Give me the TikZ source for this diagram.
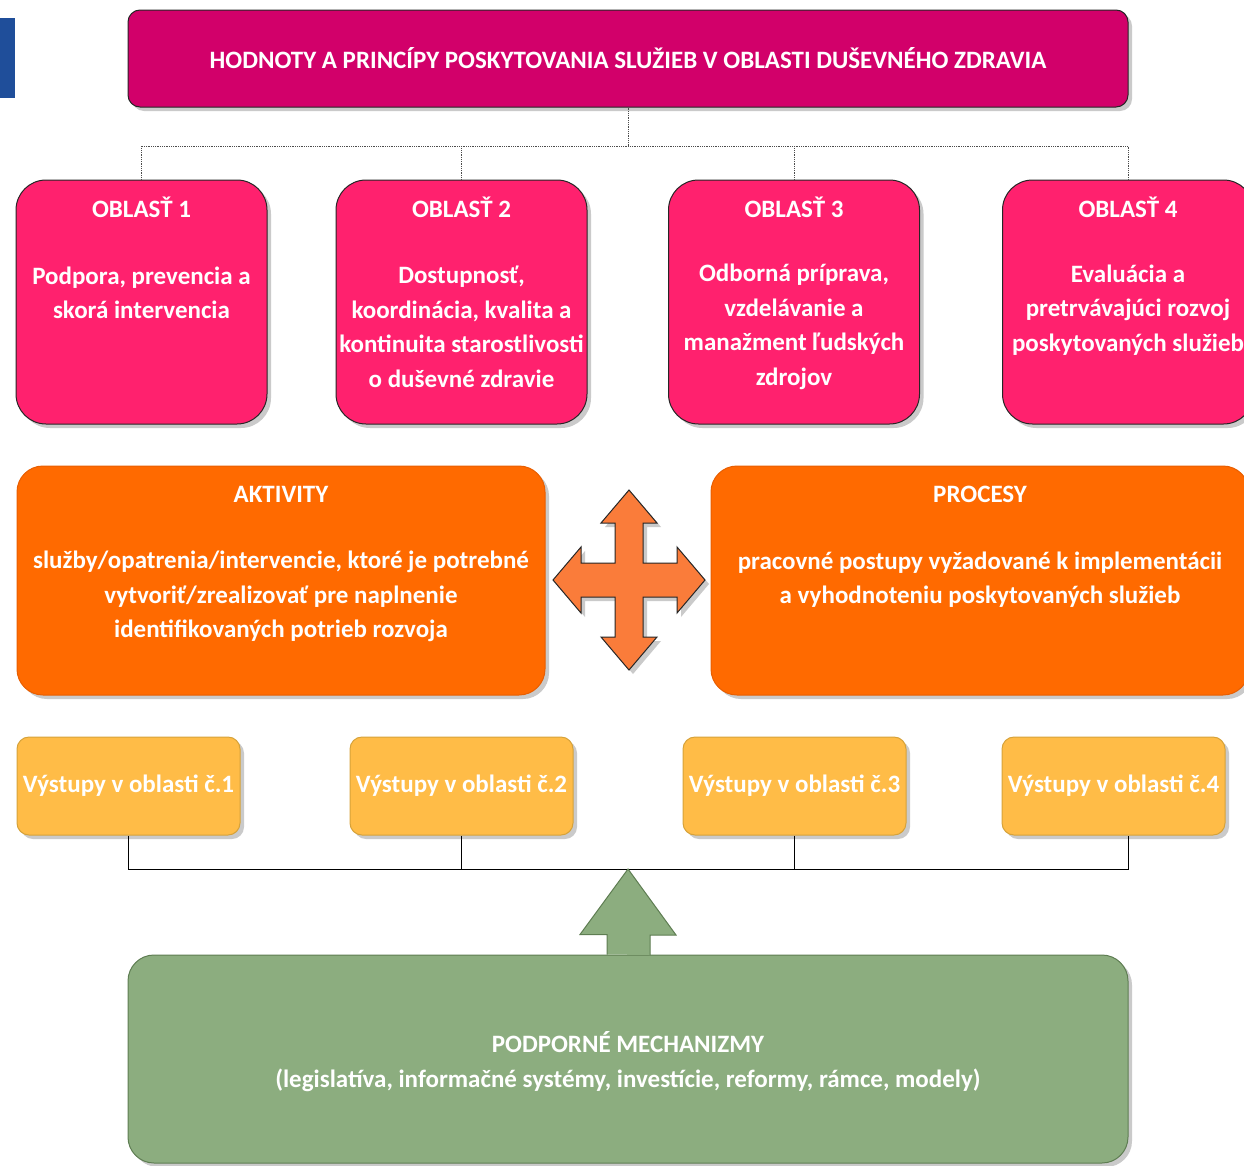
\documentclass[tikz,border=0pt]{standalone}
\usepackage{fontspec}
\setmainfont{Carlito}
\usetikzlibrary{shadows}
\definecolor{modra}{HTML}{1F4E9A}
\definecolor{hodnotyfill}{HTML}{D2006A}
\definecolor{oblastfill}{HTML}{FF216E}
\definecolor{aktfill}{HTML}{FF6A00}
\definecolor{aktline}{HTML}{E85E00}
\definecolor{krizfill}{HTML}{FA7C3A}
\definecolor{vystfill}{HTML}{FFBC47}
\definecolor{vystline}{HTML}{D6A23A}
\definecolor{mechfill}{HTML}{8CAD7F}
\definecolor{mechline}{HTML}{5E7D52}
\tikzset{
  tien/.style={drop shadow={shadow xshift=4pt,shadow yshift=-4pt,fill=black!35,opacity=.6}},
  box/.style={line width=1pt,tien},
  hodnotybox/.style={box,draw=black!85,fill=hodnotyfill,rounded corners=12pt,minimum width=1000pt,minimum height=97pt},
  oblastbox/.style={box,draw=black!85,fill=oblastfill,rounded corners=30pt,minimum width=251pt,minimum height=244pt},
  aktbox/.style={box,draw=aktline,fill=aktfill,rounded corners=26pt,minimum height=229pt},
  vystbox/.style={box,draw=vystline,fill=vystfill,rounded corners=12pt,minimum width=223pt,minimum height=98pt},
  mechbox/.style={box,draw=mechline,fill=mechfill,rounded corners=26pt,minimum width=1000pt,minimum height=208pt},
  txt/.style={text=white,align=center,inner sep=0pt,font=\bfseries\fontsize{25}{34.5}\selectfont},
  bodka/.style={densely dotted,line width=.8pt,black!70},
  spoj/.style={line width=1pt,black},
}

\begin{document}
\begin{tikzpicture}[x=1pt,y=-1pt]
\useasboundingbox (0,0) rectangle (1244,1165);
\fill[modra] (0,18) rectangle (15,98);
%hodnoty a principy
\node[hodnotybox] (hodnoty) at (628,58.5) {};
\node[txt] (hodnotytxt) at (628,58.5) {HODNOTY A PRINCÍPY POSKYTOVANIA SLUŽIEB V OBLASTI DUŠEVNÉHO ZDRAVIA};
%oblasti
\node[oblastbox] (obl1) at (141.5,302) {};
\node[oblastbox] (obl2) at (461.5,302) {};
\node[oblastbox] (obl3) at (794,302) {};
\node[oblastbox] (obl4) at (1128,302) {};
\node[txt] (obl1t) at (141.5,207) {OBLASŤ 1};
\node[txt] (obl2t) at (461.5,207) {OBLASŤ 2};
\node[txt] (obl3t) at (794,207) {OBLASŤ 3};
\node[txt] (obl4t) at (1128,207) {OBLASŤ 4};
\node[txt] (obl1b) at (141.5,293) {Podpora, prevencia a\\skorá intervencia};
\node[txt] (obl2b) at (461.5,327) {Dostupnosť,\\koordinácia, kvalita a\\kontinuita starostlivosti\\o duševné zdravie};
\node[txt] (obl3b) at (794,327) {Odborná príprava,\\vzdelávanie a\\manažment ľudských\\zdrojov};
\node[txt] (obl4b) at (1128,310) {Evaluácia a\\pretrvávajúci rozvoj\\poskytovaných služieb};
\coordinate (vetva) at (628,146);
\draw[bodka] (hodnoty.south) -- (vetva);
\draw[bodka] (obl1.north) |- (vetva) -| (obl4.north);
\draw[bodka] (obl2.north) -- (obl2.north |- vetva);
\draw[bodka] (obl3.north) -- (obl3.north |- vetva);
%aktivity a procesy
\node[aktbox,minimum width=528pt] (akt) at (281,580.5) {};
\node[aktbox,minimum width=538pt] (proc) at (980,580.5) {};
\node[txt] (aktt) at (281,494) {AKTIVITY};
\node[txt] (proct) at (980,494) {PROCESY};
\node[txt] (aktb) at (281,596.5) {služby/opatrenia/intervencie, ktoré je potrebné\\vytvoriť/zrealizovať pre naplnenie\\identifikovaných potrieb rozvoja};
\node[txt] (procb) at (980,579.5) {pracovné postupy vyžadované k implementácii\\a vyhodnoteniu poskytovaných služieb};
\coordinate (kriz) at (629,580);
\draw[box,draw=black!85,fill=krizfill,shift={(kriz)}]
  (0,-90) -- (28,-57) -- (14,-57) -- (14,-17) -- (48,-17) -- (48,-33) -- (76,0)
  -- (48,33) -- (48,17) -- (14,17) -- (14,57) -- (28,57) -- (0,90)
  -- (-28,57) -- (-14,57) -- (-14,17) -- (-48,17) -- (-48,33) -- (-76,0)
  -- (-48,-33) -- (-48,-17) -- (-14,-17) -- (-14,-57) -- (-28,-57) -- cycle;
%vystupy
\node[vystbox] (vyst1) at (128.5,786) {};
\node[vystbox] (vyst2) at (461.5,786) {};
\node[vystbox] (vyst3) at (794.5,786) {};
\node[vystbox] (vyst4) at (1113.5,786) {};
\node[txt] (vyst1t) at (128.5,786) {Výstupy v oblasti č.1};
\node[txt] (vyst2t) at (461.5,786) {Výstupy v oblasti č.2};
\node[txt] (vyst3t) at (794.5,786) {Výstupy v oblasti č.3};
\node[txt] (vyst4t) at (1113.5,786) {Výstupy v oblasti č.4};
\coordinate (zber) at (628,869);
\draw[spoj] (vyst1.south) |- (zber) -| (vyst4.south -| hodnoty.east);
\draw[spoj] (vyst2.south) -- (vyst2.south |- zber);
\draw[spoj] (vyst3.south) -- (vyst3.south |- zber);
%podporne mechanizmy
\node[mechbox] (mech) at (628,1059) {};
\node[txt] (mecht) at (628,1061.5) {PODPORNÉ MECHANIZMY\\(legislatíva, informačné systémy, investície, reformy, rámce, modely)};
\draw[line width=1pt,draw=mechline,fill=mechfill]
  (mech.north) ++(-21,0) -- ++(0,-20) -- ++(-27,0) -- (zber)
  -- (676,935) -- ++(-26,0) -- ++(0,20);
\end{tikzpicture}
\end{document}
